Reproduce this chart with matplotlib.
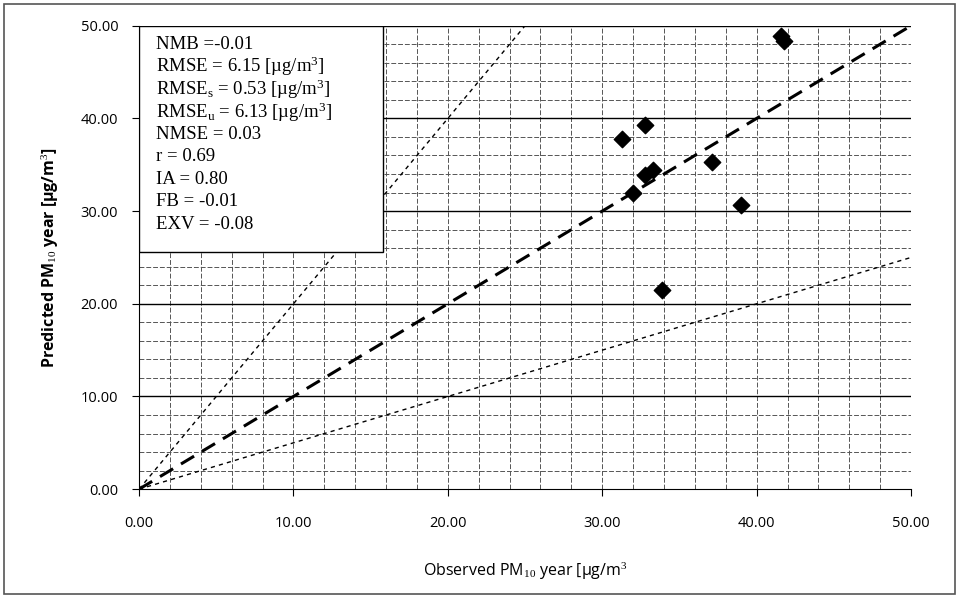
import numpy as np
import matplotlib.pyplot as plt
from matplotlib.patches import Rectangle

# observed vs predicted PM10 annual means
observed = [41.6, 41.8, 32.8, 31.3, 32.8, 33.3, 32.0, 37.1, 39.0, 33.9]
predicted = [48.9, 48.4, 39.3, 37.8, 33.9, 34.4, 32.0, 35.3, 30.7, 21.5]

ticks = [0, 10, 20, 30, 40, 50]
stats = [
    "NMB =-0.01",
    "RMSE = 6.15 [µg/m$^3$]",
    "RMSE$_s$ = 0.53 [µg/m$^3$]",
    "RMSE$_u$ = 6.13 [µg/m$^3$]",
    "NMSE = 0.03",
    "r = 0.69",
    "IA = 0.80",
    "FB = -0.01",
    "EXV = -0.08",
]

plt.rcParams["font.family"] = ["Open Sans", "DejaVu Sans"]
plt.rcParams["mathtext.fontset"] = "custom"
plt.rcParams["mathtext.rm"] = "Liberation Serif"
plt.rcParams["mathtext.it"] = "Liberation Serif"

fig = plt.figure(figsize=(9.59, 5.98), dpi=100)
ax = fig.add_axes([0.145, 0.182, 0.805, 0.775])

fig.patches.append(Rectangle((0.004, 0.006), 0.992, 0.988, transform=fig.transFigure,
                             fill=False, edgecolor="#555555", linewidth=1.2))

ax.set_xlim(0, 50)
ax.set_ylim(0, 50)

# grid: dashed every 2, solid horizontal every 10
minor = np.arange(2, 50, 2)
for v in minor:
    ax.axvline(v, color="#555555", lw=0.7, ls=(0, (5, 2)), zorder=1)
    if v % 10:
        ax.axhline(v, color="#555555", lw=0.7, ls=(0, (5, 2)), zorder=1)
for v in [10, 20, 30, 40, 50]:
    ax.axhline(v, color="black", lw=1.0, zorder=1)

x = np.array([0, 50])
ax.plot(x, x, color="black", lw=2.2, ls=(0, (5, 3)), zorder=3)
ax.plot(x, 2 * x, color="black", lw=1.0, ls=(0, (3, 3)), zorder=3)
ax.plot(x, x / 2, color="black", lw=1.0, ls=(0, (3, 3)), zorder=3)

ax.scatter(observed, predicted, marker="D", s=70, color="black", zorder=4)

ax.add_patch(Rectangle((0, 25.6), 15.8, 24.4, facecolor="white", edgecolor="black",
                       lw=1.0, zorder=5))
for i, s in enumerate(stats):
    ax.text(1.1, 48.0 - i * 2.43, s, family="Liberation Serif", fontsize=13.5,
            va="center", ha="left", zorder=6)

ax.set_xticks(ticks)
ax.set_yticks(ticks)
ax.set_xticklabels(["%.2f" % t for t in ticks])
ax.set_yticklabels(["%.2f" % t for t in ticks])
ax.tick_params(direction="out", length=5, labelsize=10.5, color="black")
ax.tick_params(axis="x", pad=14)
ax.tick_params(axis="y", pad=10)
for side in ["top", "right"]:
    ax.spines[side].set_visible(False)

ax.set_xlabel("Observed PM$_{10}$ year [µg/m$^3$", fontsize=11.5, labelpad=22)
ax.set_ylabel("Predicted PM$_{10}$ year [µg/m$^3$]", fontsize=11.5, fontweight="bold",
              labelpad=14)

fig.savefig("out.png", dpi=100)
